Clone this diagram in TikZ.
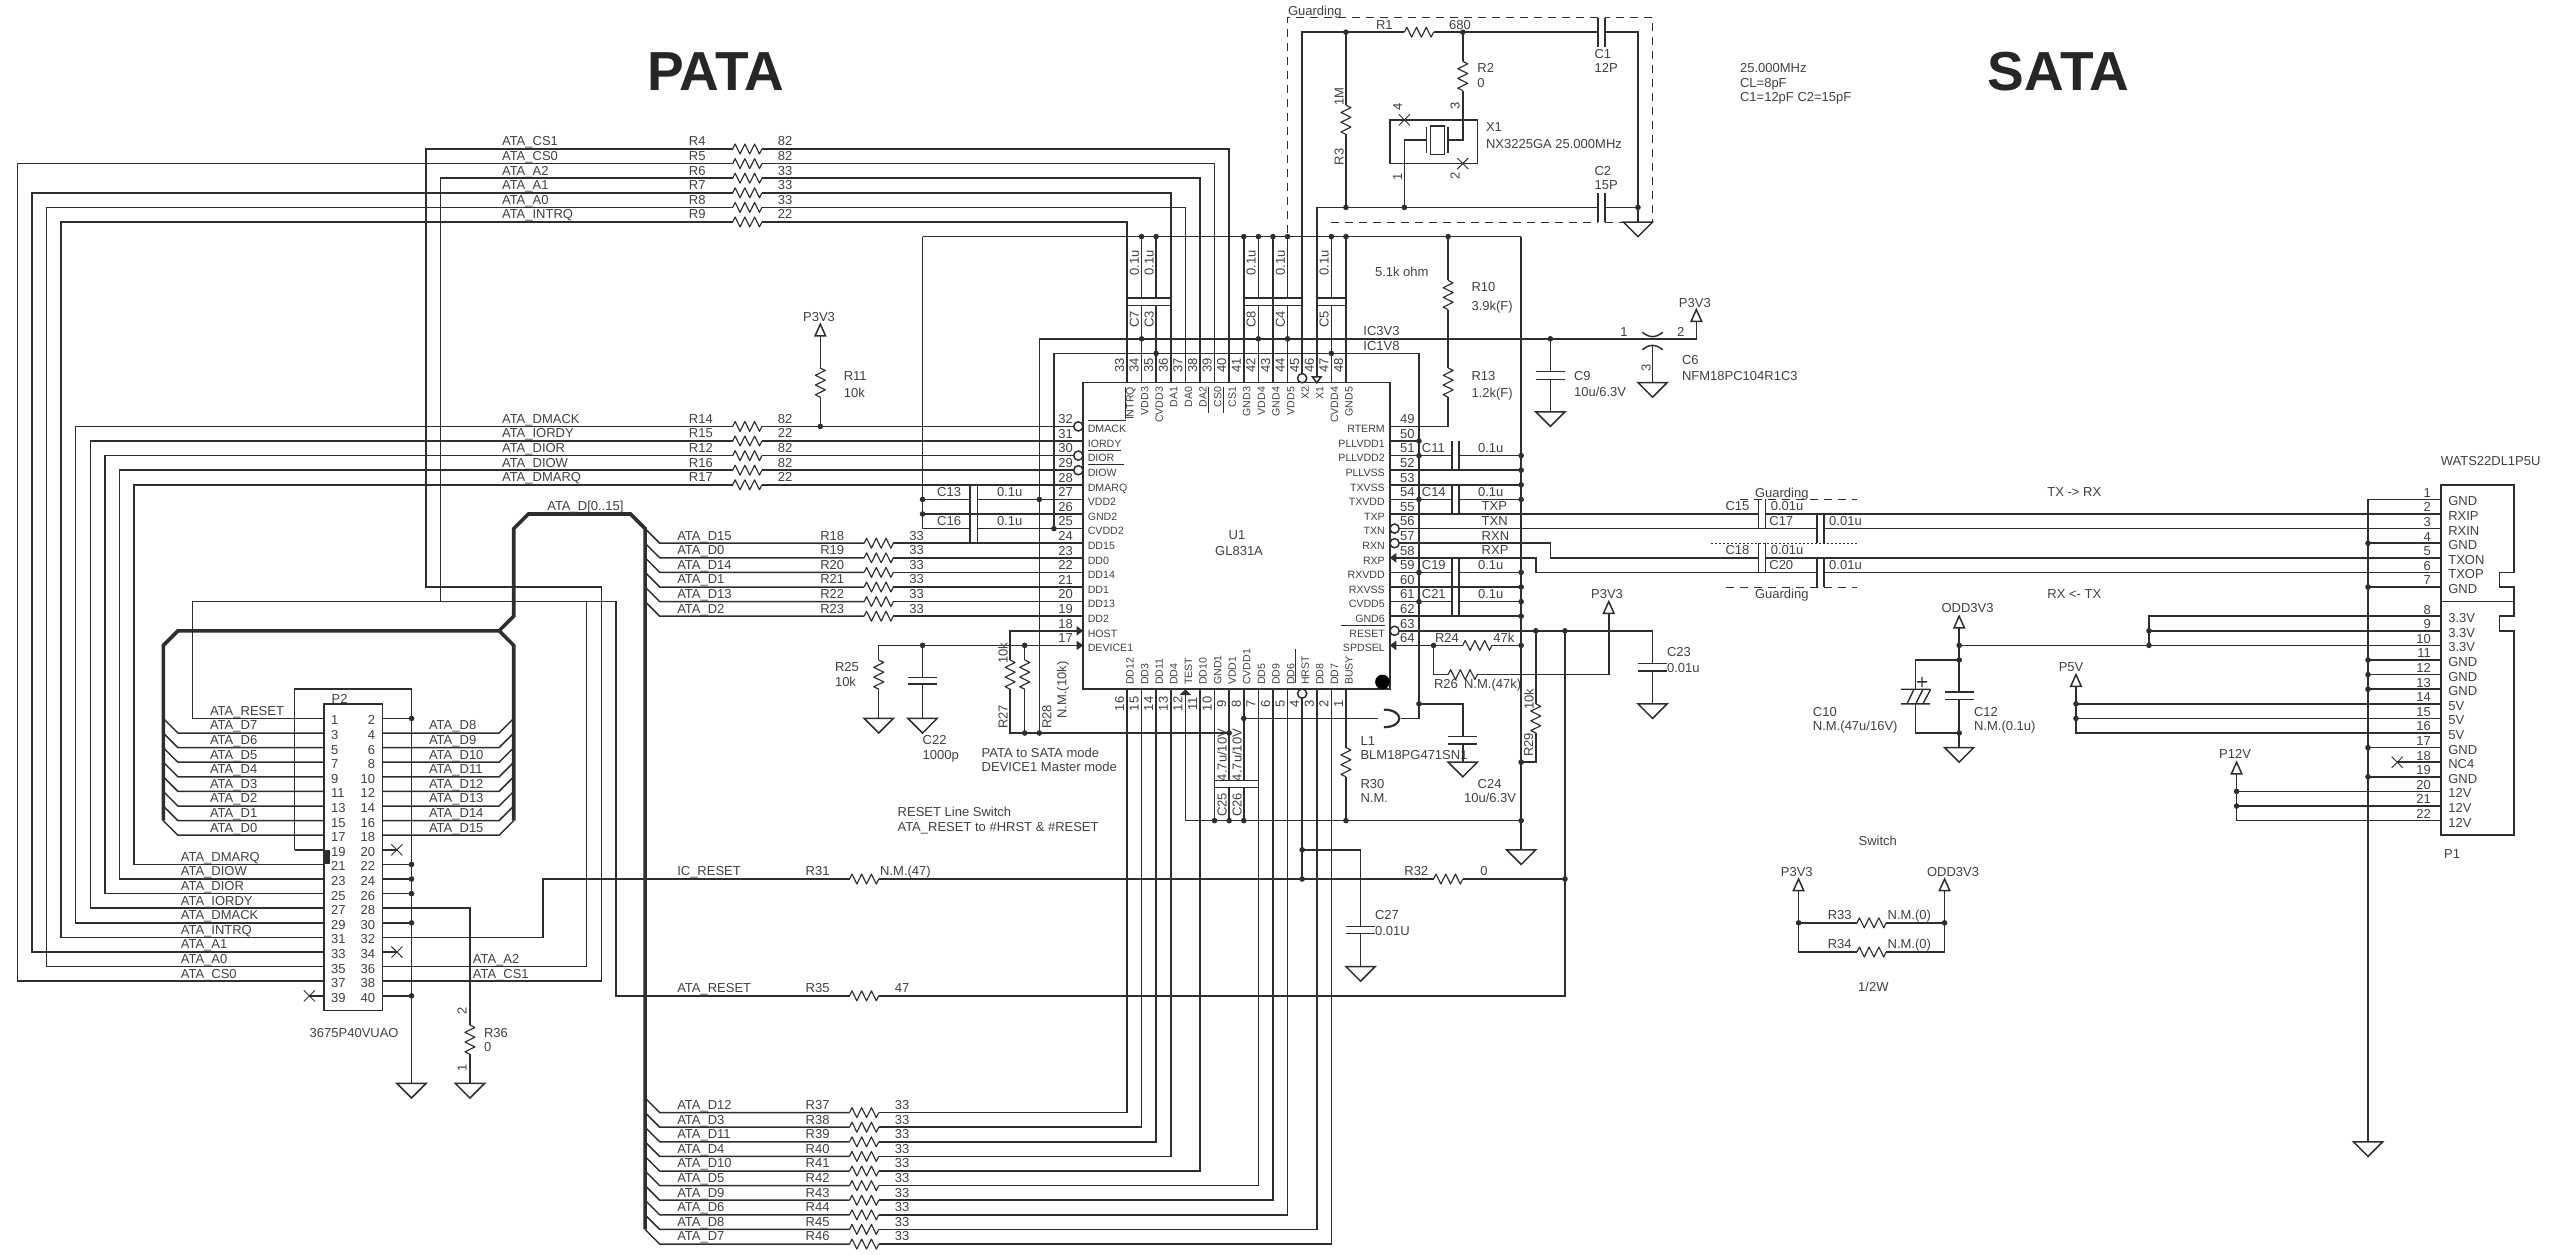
\documentclass[tikz,border=0pt]{standalone}
\usepackage{fontspec}
\setmainfont{Liberation Sans}
\usetikzlibrary{calc}
\definecolor{ink}{HTML}{2E2E2E}
\definecolor{inkt}{HTML}{404040}
\newcount\nc
\tikzset{
 wire/.style={draw=ink,line width=1.5pt,line join=miter},
 zig/.style={draw=ink,line width=1.15pt,line join=round},
 busline/.style={draw=ink,line width=3.6pt,line join=miter},
 plate/.style={draw=ink,line width=1.4pt},
 guard/.style={draw=ink,line width=1pt,dash pattern=on 8pt off 6pt},
 txt/.style={inner sep=0pt,outer sep=0pt,text=inkt,font=\fontsize{13}{15}\selectfont,text height=9.3pt,text depth=0pt},
 tiny/.style={txt,font=\fontsize{10.6}{12}\selectfont,text height=7.6pt},
 big/.style={inner sep=0pt,outer sep=0pt,text=black!85,font=\fontsize{55}{60}\selectfont\bfseries},
}
\newcommand\hres[3]{\coordinate (#1-a) at (#2,#3);\coordinate (#1-b) at ({#2+2},#3);\draw[zig] (#1-a) -- ++(.167,-.34) -- ++(.333,.68) -- ++(.333,-.68) -- ++(.333,.68) -- ++(.333,-.68) -- ++(.333,.68) -- (#1-b);}
\newcommand\vres[3]{\coordinate (#1-a) at (#2,#3);\coordinate (#1-b) at (#2,{#3+2});\draw[zig] (#1-a) -- ++(.34,.167) -- ++(-.68,.333) -- ++(.68,.333) -- ++(-.68,.333) -- ++(.68,.333) -- ++(-.68,.333) -- (#1-b);}
\newcommand\capH[2]{\draw[plate] ({#1-1},{#2-.25}) -- ({#1+1},{#2-.25}) ({#1-1},{#2+.25}) -- ({#1+1},{#2+.25});}
\newcommand\capV[2]{\draw[plate] ({#1-.25},{#2-1}) -- ({#1-.25},{#2+1}) ({#1+.25},{#2-1}) -- ({#1+.25},{#2+1});}
\newcommand\gnd[2]{\draw[wire] ({#1-1},#2) -- ({#1+1},#2) -- (#1,{#2+1}) -- cycle;}
\newcommand\pwr[2]{\draw[wire,fill=white] (#1,#2) -- ({#1-.36},{#2+.8}) -- ({#1+.36},{#2+.8}) -- cycle;}
\newcommand\xmark[2]{\draw[ink,line width=.9pt] ({#1-.38},{#2-.38}) -- ({#1+.38},{#2+.38}) ({#1-.38},{#2+.38}) -- ({#1+.38},{#2-.38});}
\newcommand\bub[2]{\draw[wire,fill=white] (#1,#2) circle (4.6pt);}
\newcommand\lblW[3]{\global\advance\nc by 1 \node[txt,anchor=west] (t\the\nc) at (#1,#2) {#3};}
\newcommand\lblE[3]{\global\advance\nc by 1 \node[txt,anchor=east] (t\the\nc) at (#1,#2) {#3};}
\newcommand\lblA[3]{\global\advance\nc by 1 \node[txt,anchor=west] (t\the\nc) at (#1,{#2-.53}) {#3};}
\newcommand\lblC[3]{\global\advance\nc by 1 \node[txt,anchor=center] (t\the\nc) at (#1,#2) {#3};}
\newcommand\pxW[3]{\global\advance\nc by 1 \node[txt,anchor=west] (t\the\nc) at ({(#1-17.3)/14.6},{(#2-149)/14.6}) {#3};}
\newcommand\pxC[3]{\global\advance\nc by 1 \node[txt,anchor=center] (t\the\nc) at ({(#1-17.3)/14.6},{(#2-149)/14.6}) {#3};}
\newcommand\pxR[3]{\global\advance\nc by 1 \node[txt,anchor=center,rotate=90] (t\the\nc) at ({(#1-17.3)/14.6},{(#2-149)/14.6}) {#3};}
\newcommand\pxL[4]{\draw[ink,line width=1pt] ({(#1-17.3)/14.6},{(#2-149)/14.6}) -- ({(#3-17.3)/14.6},{(#4-149)/14.6});}
\begin{document}
\begin{tikzpicture}[x=14.6pt,y=-14.6pt]
\useasboundingbox (-1.185,-10.205) rectangle (174.22,75.685);
% ---------- pin coordinates
\foreach \p in {17,...,32} \coordinate (U\p) at (73,{19+32-\p});
\foreach \p in {49,...,64} \coordinate (U\p) at (94,{19+\p-49});
\foreach \p in {33,...,48} \coordinate (U\p) at ({76+\p-33},16);
\foreach \p in {1,...,16} \coordinate (U\p) at ({76+16-\p},37);
\foreach \p in {1,3,...,39} \coordinate (PA\p) at (21,{39+(\p-1)/2});
\foreach \p in {2,4,...,40} \coordinate (PA\p) at (25,{39+(\p-2)/2});
\foreach \p in {1,...,7} \coordinate (PB\p) at (166,{23+\p});
\foreach \p in {8,...,22} \coordinate (PB\p) at (166,{24+\p});
% ---------- title
\node[big] (pata) at (47.85,-5.27) {PATA};
\node[big] (sata) at (139.8,-5.27) {SATA};
% ---------- series resistors with labels
\foreach \Mr/\Nt/\Rn/\Vl in {0/ATA\_CS1/R4/82,1/ATA\_CS0/R5/82,2/ATA\_A2/R6/33,3/ATA\_A1/R7/33,4/ATA\_A0/R8/33,5/ATA\_INTRQ/R9/22,19/ATA\_DMACK/R14/82,20/ATA\_IORDY/R15/22,21/ATA\_DIOR/R12/82,22/ATA\_DIOW/R16/82,23/ATA\_DMARQ/R17/22}{
 \hres{\Rn}{49}{\Mr}\lblA{33.2}{\Mr}{\Nt}\lblA{46}{\Mr}{\Rn}\lblA{52.1}{\Mr}{\Vl}}
\foreach \Mr/\Nt/\Rn in {27/ATA\_D15/R18,28/ATA\_D0/R19,29/ATA\_D14/R20,30/ATA\_D1/R21,31/ATA\_D13/R22,32/ATA\_D2/R23}{
 \hres{\Rn}{58}{\Mr}\lblA{45.2}{\Mr}{\Nt}\lblA{55}{\Mr}{\Rn}\lblA{61.1}{\Mr}{33}
 \draw[wire] (43,{\Mr-1}) -- (44,\Mr) -- (\Rn-a);}
\foreach \Mr/\Nt/\Rn in {66/ATA\_D12/R37,67/ATA\_D3/R38,68/ATA\_D11/R39,69/ATA\_D4/R40,70/ATA\_D10/R41,71/ATA\_D5/R42,72/ATA\_D9/R43,73/ATA\_D6/R44,74/ATA\_D8/R45,75/ATA\_D7/R46}{
 \hres{\Rn}{57}{\Mr}\lblA{45.2}{\Mr}{\Nt}\lblA{54}{\Mr}{\Rn}\lblA{60.1}{\Mr}{33}
 \draw[wire] (43,{\Mr-1}) -- (44,\Mr) -- (\Rn-a);}
\hres{R31}{57}{50}\lblA{45.2}{50}{IC\_RESET}\lblA{54}{50}{R31}\lblA{59.1}{50}{N.M.(47)}
\hres{R35}{57}{58}\lblA{45.2}{58}{ATA\_RESET}\lblA{54}{58}{R35}\lblA{60.1}{58}{47}
\hres{R32}{97}{50}\lblA{95}{50}{R32}\lblA{100.2}{50}{0}
\hres{R24}{99}{34}\lblA{97.1}{34}{R24}\lblA{101.1}{34}{47k}
\hres{R26}{98}{36}\pxW{1434}{684.3}{R26}\pxW{1464}{684.3}{N.M.(47k)}
\hres{R1}{95}{-8}\hres{R33}{126}{53}\hres{R34}{126}{55}
\vres{R11}{55}{15}\vres{R25}{59}{35}\vres{R27}{68}{35}\vres{R28}{69}{35}\vres{R13}{98}{15}\vres{R10}{98}{9}
\vres{R29}{104}{38}\vres{R30}{91}{41}\vres{R36}{31}{60}\vres{R3}{91}{-3}\vres{R2}{99}{-6}
% ---------- top bus wires to U1
\draw[wire] (R4-b) -| (U40); \draw[wire] (R5-b) -| (U39); \draw[wire] (R6-b) -| (U38);
\draw[wire] (R7-b) -| (U36); \draw[wire] (R8-b) -| (U37); \draw[wire] (R9-b) -| (U33);
\draw[wire] (R14-b) -- (U32); \draw[wire] (R15-b) -- (U31); \draw[wire] (R12-b) -- (U30);
\draw[wire] (R16-b) -- (U29); \draw[wire] (R17-b) -- (U28);
\draw[wire] (R18-b) -- (U24); \draw[wire] (R19-b) -- (U23); \draw[wire] (R20-b) -- (U22);
\draw[wire] (R21-b) -- (U21); \draw[wire] (R22-b) -- (U20); \draw[wire] (R23-b) -- (U19);
% ---------- left routing to P2
\draw[wire] (R5-a) -- (0,1) -- (0,57) -- (PA37);
\draw[wire] (R7-a) -- (1,3) -- (1,55) -- (PA33);
\draw[wire] (R8-a) -- (2,4) -- (2,56) -- (PA35);
\draw[wire] (R9-a) -- (3,5) -- (3,54) -- (PA31);
\draw[wire] (R14-a) -- (4,19) -- (4,53) -- (PA29);
\draw[wire] (R15-a) -- (5,20) -- (5,52) -- (PA27);
\draw[wire] (R12-a) -- (6,21) -- (6,51) -- (PA25);
\draw[wire] (R16-a) -- (7,22) -- (7,50) -- (PA23);
\draw[wire] (R17-a) -- (8,23) -- (8,49) -- (PA21);
\draw[wire] (R4-a) -- (28,0) -- (28,30) -- (40,30) -- (40,57) -- (PA38);
\draw[wire] (R6-a) -- (29,2) -- (29,31) -- (39,31) -- (39,56) -- (PA36);
\draw[wire] (PA1) -- (12,39) -- (12,31) -- (41,31) -- (41,58) -- (R35-a);
\draw[wire] (PA32) -- (36,54) -- (36,50) -- (R31-a);
% ---------- data bus
\draw[busline] (10,46) -- (10,34) -- (11,33) -- (33,33) -- (34,34) -- (34,46);
\draw[busline] (33,33) -- (34,32) -- (34,26) -- (35,25) -- (42,25) -- (43,26) -- (43,74);
\lblW{36.3}{24.45}{ATA\_D[0..15]}
% ---------- P2
\draw[wire,fill=white] (21,38) rectangle (25,59);
\foreach \p in {3,5,...,17}{\pgfmathtruncatemacro\rw{39+(\p-1)/2}\draw[wire] (PA\p) -- (11,\rw) -- (10,{\rw-1});}
\foreach \p in {4,6,...,18}{\pgfmathtruncatemacro\rw{39+(\p-2)/2}\draw[wire] (PA\p) -- (33,\rw) -- (34,{\rw-1});}
\foreach \p in {1,3,...,39}{\pgfmathtruncatemacro\rw{39+(\p-1)/2}\lblW{21.5}{\rw+.13}{\p}}
\foreach \p in {2,4,...,40}{\pgfmathtruncatemacro\rw{39+(\p-2)/2}\lblE{24.5}{\rw+.13}{\p}}
\fill[ink] (21,48) rectangle (21.45,49);
\draw[wire] (19,48) -- (PA19); \draw[wire] (19,48) -- (19,37) -- (27,37) -- (27,64);
\gnd{27}{64}\gnd{31}{64}
\draw[wire] (PA2) -- (27,39); \draw[wire] (PA22) -- (27,49); \draw[wire] (PA24) -- (27,50);
\draw[wire] (PA26) -- (27,51); \draw[wire] (PA30) -- (27,53); \draw[wire] (PA40) -- (27,58);
\draw[wire] (PA28) -- (31,52) -- (R36-a); \draw[wire] (R36-b) -- (31,64);
\draw[wire] (PA20) -- (26,48); \xmark{26}{48}
\draw[wire] (PA34) -- (26,55); \xmark{26}{55}
\draw[wire] (PA39) -- (20,58); \xmark{20}{58}
\foreach \Mr/\Nt in {39/ATA\_RESET,40/ATA\_D7,41/ATA\_D6,42/ATA\_D5,43/ATA\_D4,44/ATA\_D3,45/ATA\_D2,46/ATA\_D1,47/ATA\_D0}{\lblA{13.2}{\Mr}{\Nt}}
\foreach \Mr/\Nt in {40/ATA\_D8,41/ATA\_D9,42/ATA\_D10,43/ATA\_D11,44/ATA\_D12,45/ATA\_D13,46/ATA\_D14,47/ATA\_D15}{\lblA{28.2}{\Mr}{\Nt}}
\foreach \Mr/\Nt in {49/ATA\_DMARQ,50/ATA\_DIOW,51/ATA\_DIOR,52/ATA\_IORDY,53/ATA\_DMACK,54/ATA\_INTRQ,55/ATA\_A1,56/ATA\_A0,57/ATA\_CS0}{\lblA{11.2}{\Mr}{\Nt}}
\lblA{31.2}{56}{ATA\_A2}\lblA{31.2}{57}{ATA\_CS1}
\pxW{331.7}{698.7}{P2}\pxW{309.7}{1032.7}{3675P40VUAO}
\pxW{484}{1032.7}{R36}\pxW{484}{1046.7}{0}\pxR{462}{1011}{2}\pxR{462}{1068}{1}
% ---------- P3V3 pull-up
\draw[wire] (R14-b) -- (55,19) -- (R11-b); \draw[wire] (R11-a) -- (55,12.8); \pwr{55}{12}
\pxC{819}{316.7}{P3V3}\pxW{843.8}{375.7}{R11}\pxW{843.8}{392.7}{10k}
% ---------- U1 body
\draw[wire] (73,16) rectangle (94,37);
\draw[wire] (62,6) -- (103,6); \draw[wire] (103,6) -- (103,48); \draw[wire] (62,6) -- (62,26) -- (65.25,26);
\draw[wire] (65.75,26) -- (U25); \draw[wire] (62,24) -- (65.25,24); \draw[wire] (65.75,24) -- (U27);
\draw[wire] (62,25) -- (U26); \capV{65.5}{24}\capV{65.5}{26}
\lblA{63}{24}{C13}\lblA{67.1}{24}{0.1u}\lblA{63}{26}{C16}\lblA{67.1}{26}{0.1u}
\draw[wire] (70,13) -- (115,13) -- (115,11.8); \pwr{115}{11}
\draw[wire] (71,14) -- (96,14) -- (96,39) -- (94.8,39);
\draw[wire] (70,13) -- (70,40); \draw[wire] (71,14) -- (71,26);
\lblA{92.2}{13}{IC3V3}\lblA{92.2}{14}{IC1V8}
% top pins
\draw[wire] (76,5) -- (U33);\draw[wire] (84,6) -- (U41);\draw[wire] (86,6) -- (U43);\draw[wire] (91,6) -- (U48);
\foreach \nn/\pp/\cc in {77/34/C7,78/35/C3,85/42/C8,87/44/C4,90/47/C5}{
 \draw[wire] (\nn,6) -- (\nn,10.2); \draw[wire] (\nn,10.7) -- (U\pp);
 \draw[plate] ({\nn-1},10.2) -- ({\nn+1},10.2) ({\nn-1},10.7) -- ({\nn+1},10.7);
 \global\advance\nc by 1 \node[txt,rotate=90] (t\the\nc) at ({\nn-.5},7.8) {0.1u};
 \global\advance\nc by 1 \node[txt,rotate=90] (t\the\nc) at ({\nn-.5},11.65) {\cc};}
\foreach \p in {33,...,48}{\pgfmathsetmacro\nn{76+\p-33}\global\advance\nc by 1 \node[txt,rotate=90] (t\the\nc) at ({\nn-.52},14.8) {\p};}
\foreach \p/\q in {33/INTRQ,34/VDD3,35/CVDD3,36/DA1,37/DA0,38/DA2,39/CS0,40/CS1,41/GND3,42/VDD4,43/GND4,44/VDD5,45/X2,46/X1,47/CVDD4,48/GND5}{
 \global\advance\nc by 1 \node[tiny,rotate=90,anchor=east] (t\the\nc) at ($(U\p)+(.2,.3)$) {\q};}
\foreach \p/\q in {16/DD12,15/DD3,14/DD11,13/DD4,12/TEST,11/DD10,10/GND1,9/VDD1,8/CVDD1,7/DD5,6/DD9,5/DD6,4/HRST,3/DD8,2/DD7,1/BUSY}{
 \global\advance\nc by 1 \node[tiny,rotate=90,anchor=west] (t\the\nc) at ($(U\p)+(.2,-.3)$) {\q};
 \pgfmathsetmacro\nn{76+16-\p}\global\advance\nc by 1 \node[txt,rotate=90] (t\the\nc) at ({\nn-.52},38) {\p};}
\foreach \p/\q in {32/DMACK,31/IORDY,30/DIOR,29/DIOW,28/DMARQ,27/VDD2,26/GND2,25/CVDD2,24/DD15,23/DD0,22/DD14,21/DD1,20/DD13,19/DD2,18/HOST,17/DEVICE1}{
 \global\advance\nc by 1 \node[tiny,anchor=west] (t\the\nc) at ($(U\p)+(.32,.17)$) {\q};
 \pgfmathsetmacro\mm{19+32-\p}\lblC{71.8}{\mm-.5}{\p}}
\foreach \p/\q in {49/RTERM,50/PLLVDD1,51/PLLVDD2,52/PLLVSS,53/TXVSS,54/TXVDD,55/TXP,56/TXN,57/RXN,58/RXP,59/RXVDD,60/RXVSS,61/CVDD5,62/GND6,63/RESET,64/SPDSEL}{
 \global\advance\nc by 1 \node[tiny,anchor=east] (t\the\nc) at ($(U\p)+(-.34,.17)$) {\q};
 \pgfmathsetmacro\mm{19+\p-49}\lblC{95.2}{\mm-.5}{\p}}
\pxL{1088}{420.7}{1125.5}{420.7}\pxL{1088}{450}{1120.5}{450}\pxL{1088}{464.7}{1124.4}{464.7}
\pxL{1125}{386.7}{1125}{419.3}\pxL{1208.6}{386.7}{1208.6}{412.7}\pxL{1223}{386.7}{1223}{412.7}
\pxL{1340.6}{625}{1384.6}{625}\pxL{1295.8}{649}{1295.8}{683}
\pxC{1237}{535}{U1}\pxC{1239}{550.7}{GL831A}
\fill[black] (93.5,36.5) circle (7.3pt);
% crystal section
\draw[guard] (90,5) -- (108.25,5); \draw[guard] (108.75,5) -- (112,5) -- (112,-9) -- (108.75,-9); \draw[guard] (108.25,-9) -- (87,-9) -- (87,6);
\pxW{1288}{10.7}{Guarding}
\draw[wire] (U45) -- (88,-8) -- (R1-a); \draw[wire] (R1-b) -- (108.25,-8); \draw[wire] (108.75,-8) -- (111,-8) -- (111,5);
\draw[wire] (U46) -- (89,4) -- (108.25,4); \draw[wire] (108.75,4) -- (111,4); \capV{108.5}{-8}\capV{108.5}{4} \gnd{111}{5}
\draw[wire] (91,-8) -- (R3-a); \draw[wire] (R3-b) -- (91,4);
\draw[wire] (99,-8) -- (R2-a); \draw[wire] (R2-b) -- (99,-.6) -- (98,-.6);
\draw[wire] (94,-2) rectangle (100,1);
\draw[wire] (96.5,-.6) -- (95,-.6) -- (95,4);
\draw[wire,fill=white] (96.8,-1.56) rectangle (97.75,.36);
\draw[plate] (96.5,-1.5) -- (96.5,.3) (98,-1.5) -- (98,.3);
\xmark{95}{-2}\xmark{99}{1}
\pxR{1397.4}{106.7}{4}\pxR{1454.8}{106}{3}\pxR{1397.4}{176.7}{1}\pxR{1454.8}{176}{2}
\pxW{1486}{127.3}{X1}\pxW{1486}{144.3}{NX3225GA 25.000MHz}
\pxW{1477.4}{68.3}{R2}\pxW{1477.4}{83.3}{0}\pxW{1376}{25}{R1}\pxW{1449}{25}{680}
\pxR{1339}{96.7}{1M}\pxR{1339}{157}{R3}
\pxW{1594.5}{54}{C1}\pxW{1594.5}{68.3}{12P}\pxW{1594.5}{170.7}{C2}\pxW{1594.5}{185}{15P}
\pxW{1740}{68.3}{25.000MHz}\pxW{1740}{83}{CL=8pF}\pxW{1740}{97.3}{C1=12pF C2=15pF}
% RTERM
\draw[wire] (U49) -- (98,19) -- (R13-b); \draw[wire] (R13-a) -- (R10-b); \draw[wire] (R10-a) -- (98,6);
\pxW{1471.5}{287.3}{R10}\pxW{1471.5}{306}{3.9k(F)}\pxW{1471.5}{375.7}{R13}\pxW{1471.5}{392.7}{1.2k(F)}\pxW{1375}{272.3}{5.1k ohm}
% C9, C6
\draw[wire] (105,13) -- (105,15.25); \draw[wire] (105,15.8) -- (105,18); \draw[plate] (104,15.25) -- (106,15.25) (104,15.8) -- (106,15.8); \gnd{105}{18}
\pxW{1574}{375.7}{C9}\pxW{1574}{392.3}{10u/6.3V}
\draw[wire] (111.3,12.55) .. controls (111.8,12.95) and (112.2,12.95) .. (112.7,12.55);
\draw[wire] (111.3,13.75) .. controls (111.8,13.35) and (112.2,13.35) .. (112.7,13.75);
\draw[wire] (112,13.5) -- (112,16); \gnd{112}{16}
\pxC{1624}{331.7}{1}\pxC{1680.6}{331.7}{2}\pxR{1645.8}{367.7}{3}\pxW{1682}{360}{C6}\pxW{1682}{375.7}{NFM18PC104R1C3}
\pxC{1694.8}{302.7}{P3V3}
% right side pins
\foreach \pp/\rr/\cc in {51/21/C11,54/24/C14,59/29/C19,61/31/C21}{
 \draw[wire] (U\pp) -- (98.25,\rr); \draw[wire] (98.75,\rr) -- (103,\rr); \capV{98.5}{\rr}
 \lblA{96.2}{\rr}{\cc}\lblA{100.05}{\rr}{0.1u}}
\draw[wire] (U50) -- (96,20); \draw[wire] (U52) -- (103,22); \draw[wire] (U53) -- (103,23);
\draw[wire] (U60) -- (103,30); \draw[wire] (U62) -- (103,32);
\lblA{100.3}{25}{TXP}\lblA{100.3}{26}{TXN}\lblA{100.3}{27}{RXN}\lblA{100.3}{28}{RXP}
\draw[wire] (U55) -- (119.25,25); \draw[wire] (119.75,25) -- (PB2);
\draw[wire] (U56) -- (123.25,26); \draw[wire] (123.75,26) -- (PB3);
\draw[wire] (U57) -- (105,27) -- (105,28) -- (119.25,28); \draw[wire] (119.75,28) -- (PB5);
\draw[wire] (U58) -- (104,28) -- (104,29) -- (123.25,29); \draw[wire] (123.75,29) -- (PB6);
\capV{119.5}{25}\capV{123.5}{26}\capV{119.5}{28}\capV{123.5}{29}
\lblA{117}{25}{C15}\lblA{120.1}{25}{0.01u}\lblA{120}{26}{C17}\lblA{124.1}{26}{0.01u}
\lblA{117}{28}{C18}\lblA{120.1}{28}{0.01u}\lblA{120}{29}{C20}\lblA{124.1}{29}{0.01u}
\draw[guard] (118,24) -- (126,24); \draw[guard] (117,30) -- (126,30);
\draw[ink,line width=1.3pt,dash pattern=on 2pt off 2pt] (116,27) -- (126,27);
\pxW{1755}{492.7}{Guarding}\pxW{1755}{594.3}{Guarding}
\pxW{2047.3}{492.3}{TX -> RX}\pxW{2047.3}{594.3}{RX <- TX}
% reset
\draw[wire] (U63) -- (112,33) -- (112,35.25); \draw[wire] (112,35.75) -- (112,38);
\draw[plate] (111,35.25) -- (113,35.25) (111,35.75) -- (113,35.75); \gnd{112}{38}
\pxW{1667}{652}{C23}\pxW{1667}{667.7}{0.01u}
\draw[wire] (104,33) -- (R29-a); \draw[wire] (R29-b) -- (104,42) -- (103,42);
\pxR{1529}{699}{10k}\pxR{1528.5}{745}{R29}
\draw[wire] (106,33) -- (106,58) -- (R35-b);
\draw[wire] (U64) -- (R24-a); \draw[wire] (R24-b) -- (103,34);
\draw[wire] (97,34) -- (97,36) -- (R26-a); \draw[wire] (R26-b) -- (109,36) -- (109,31.8); \pwr{109}{31}
\pxC{1607}{594}{P3V3}
\gnd{103}{48}
% bottom pins
\draw[wire] (U12) -- (80,46) -- (103,46);
\draw[wire] (U10) -- (82,46);
\draw[wire] (U9) -- (83,43.25); \draw[wire] (83,43.75) -- (83,46);
\draw[wire] (U8) -- (84,43.25); \draw[wire] (84,43.75) -- (84,46);
\draw[plate] (82,43.25) -- (84,43.25) (82,43.75) -- (84,43.75) (83,43.25) -- (85,43.25) (83,43.75) -- (85,43.75);
\pxR{1222}{755}{4.7u/10V}\pxR{1237}{755}{4.7u/10V}\pxR{1222}{805}{C25}\pxR{1237}{805}{C26}
\draw[wire] (R37-b) -| (U16); \draw[wire] (R38-b) -| (U15); \draw[wire] (R39-b) -| (U14); \draw[wire] (R40-b) -| (U13);
\draw[wire] (R41-b) -| (U11); \draw[wire] (R42-b) -| (U7); \draw[wire] (R43-b) -| (U6); \draw[wire] (R44-b) -| (U5);
\draw[wire] (R45-b) -| (U3); \draw[wire] (R46-b) -| (U2);
\draw[wire] (U4) -- (88,50);
\draw[wire] (88,48) -- (92,48) -- (92,53.25); \draw[wire] (92,53.75) -- (92,56);
\draw[plate] (91,53.25) -- (93,53.25) (91,53.75) -- (93,53.75); \gnd{92}{56}
\pxW{1375}{915}{C27}\pxW{1375}{930.7}{0.01U}
\draw[wire] (R31-b) -- (R32-a); \draw[wire] (R32-b) -- (106,50);
\draw[wire] (U1) -- (R30-a); \draw[wire] (R30-b) -- (91,46);
\pxW{1360.5}{740.7}{L1}\pxW{1360.5}{755}{BLM18PG471SN1}\pxW{1360.5}{784.3}{R30}\pxW{1360.5}{798.3}{N.M.}
\draw[wire] (84,39) -- (93.2,39);
\draw[ink,line width=2.2pt] (93.6,38.4) .. controls (95,38.4) and (95,39.6) .. (93.6,39.6);
\draw[wire] (96,38) -- (99,38) -- (99,40.25); \draw[wire] (99,40.75) -- (99,42);
\draw[plate] (98,40.25) -- (100,40.25) (98,40.75) -- (100,40.75); \gnd{99}{42}
\pxW{1477.6}{784.3}{C24}\pxW{1464}{798.3}{10u/6.3V}
% HOST etc
\draw[wire] (U18) -- (68,33) -- (R27-a); \draw[wire] (R27-b) -- (68,40) -- (83,40);
\draw[wire] (U17) -- (59,34) -- (R25-a); \draw[wire] (R25-b) -- (59,39); \gnd{59}{39}
\draw[wire] (69,34) -- (R28-a); \draw[wire] (R28-b) -- (69,40);
\draw[wire] (62,34) -- (62,36.2); \draw[wire] (62,36.65) -- (62,39); \draw[plate] (61,36.2) -- (63,36.2) (61,36.65) -- (63,36.65); \gnd{62}{39}
\pxW{835}{667.3}{R25}\pxW{835}{681.7}{10k}\pxW{922.7}{740}{C22}\pxW{922.7}{755}{1000p}
\pxR{1003}{653}{10k}\pxR{1003}{716.7}{R27}\pxR{1046.7}{716.7}{R28}\pxR{1061.7}{690}{N.M.(10k)}
\pxW{981.7}{753.3}{PATA to SATA mode}\pxW{981.7}{766.7}{DEVICE1 Master mode}
\pxW{897.7}{812.3}{RESET Line Switch}\pxW{897.5}{827.3}{ATA\_RESET to \#HRST \& \#RESET}
% pin markers
\bub{72.67}{19}\bub{72.67}{21}\bub{72.67}{22}\bub{94.33}{26}\bub{94.33}{27}\bub{94.33}{33}\bub{88}{15.7}\bub{88}{37.3}
\foreach \mm in {33,34}{\fill[ink] (73,\mm) -- (72.55,{\mm-.33}) -- (72.55,{\mm+.33}) -- cycle;}
\foreach \mm in {28,34}{\fill[ink] (94,\mm) -- (94.45,{\mm-.33}) -- (94.45,{\mm+.33}) -- cycle;}
\fill[ink] (80,37) -- (79.6,37.4) -- (80.4,37.4) -- cycle;
\draw[wire,fill=white] (89,16) -- (88.7,15.6) -- (89.3,15.6) -- cycle;
% ---------- P1
\draw[wire] (166,23) -- (171,23) -- (171,29) -- (170,29) -- (170,30) -- (171,30) -- (171,32) -- (170,32) -- (170,33) -- (171,33) -- (171,47) -- (166,47) -- cycle;
\draw[wire] (166,31) -- (171,31);
\foreach \p/\q in {1/GND,2/RXIP,3/RXIN,4/GND,5/TXON,6/TXOP,7/GND,8/3.3V,9/3.3V,10/3.3V,11/GND,12/GND,13/GND,14/5V,15/5V,16/5V,17/GND,18/NC4,19/GND,20/12V,21/12V,22/12V}{
 \global\advance\nc by 1 \node[txt,anchor=west] (t\the\nc) at ($(PB\p)+(.5,.12)$) {\q};
 \global\advance\nc by 1 \node[txt,anchor=east] (t\the\nc) at ($(PB\p)+(-.7,-.46)$) {\p};}
\pxW{2440.7}{460.7}{WATS22DL1P5U}\pxW{2444}{854}{P1}
\draw[wire] (PB1) -- (161,24) -- (161,68); \gnd{161}{68}
\foreach \p in {4,7,11,12,13,17,19}{\draw[wire] (PB\p) -- (161,0 |- PB\p);}
\draw[wire] (PB8) -- (146,32) -- (146,34); \draw[wire] (PB9) -- (146,33); \draw[wire] (PB10) -- (133,34);
\draw[wire] (PB14) -- (141,38) -- (141,36.8); \draw[wire] (PB15) -- (141,39); \draw[wire] (PB16) -- (141,40) -- (141,38); \pwr{141}{36}
\pxC{2071}{667.3}{P5V}
\draw[wire] (PB20) -- (152,44) -- (152,42.8); \draw[wire] (PB21) -- (152,45); \draw[wire] (PB22) -- (152,46) -- (152,44); \pwr{152}{42}
\pxC{2235}{754.3}{P12V}
\draw[wire] (PB18) -- (163,42); \xmark{163}{42}
% ODD3V3
\draw[wire] (133,32.8) -- (133,37.2); \draw[wire] (133,37.7) -- (133,41); \draw[plate] (132,37.2) -- (134,37.2) (132,37.7) -- (134,37.7); \pwr{133}{32}\gnd{133}{41}
\pxC{1967.5}{608.3}{ODD3V3}
\draw[wire] (133,35) -- (130,35) -- (130,37); \draw[wire] (130,38) -- (130,40) -- (133,40);
\draw[plate] (129,37) -- (131,37) (129,38) -- (131,38) (129.91,37) -- (129.42,38) (130.52,37) -- (130.03,38) (131.05,37) -- (130.52,38) (130.45,36.15) -- (130.45,36.85) (130.1,36.5) -- (130.8,36.5);
\pxW{1812.9}{711.7}{C10}\pxW{1812.9}{725.7}{N.M.(47u/16V)}\pxW{1974}{711.7}{C12}\pxW{1974}{725.7}{N.M.(0.1u)}
% switch
\draw[wire] (122,50.8) -- (122,55) -- (R34-a); \draw[wire] (R34-b) -- (132,55) -- (132,50.8); \draw[wire] (122,53) -- (R33-a); \draw[wire] (R33-b) -- (132,53);\pwr{122}{50}\pwr{132}{50}
\lblA{124}{53}{R33}\lblA{128.1}{53}{N.M.(0)}\lblA{124}{55}{R34}\lblA{128.1}{55}{N.M.(0)}
\pxC{1796.7}{871.7}{P3V3}\pxC{1953}{871.7}{ODD3V3}\pxC{1877.7}{841}{Switch}\pxC{1873.3}{987.3}{1/2W}
% ---------- junction dots
\foreach \a/\b in {27/39,27/49,27/50,27/51,27/53,27/58,55/19,62/24,62/25,70/24,71/26,77/6,78/6,84/6,85/6,86/6,87/6,90/6,91/6,98/6,77/13,85/13,87/13,105/13,78/14,90/14,91/-8,99/-8,91/4,95/4,111/4,96/20,96/21,96/24,96/29,96/31,103/21,103/22,103/23,103/24,103/29,103/30,103/31,103/32,103/34,103/42,103/46,97/34,104/33,106/33,84/39,96/38,83/40,69/40,70/40,62/34,69/34,82/46,83/46,84/46,91/46,88/48,88/50,106/50,146/33,146/34,133/34,133/35,133/40,141/38,141/39,152/44,152/45,161/27,161/30,161/35,161/36,161/37,161/41,161/43,122/53,132/53}{\fill[ink] (\a,\b) circle (2.8pt);}
\end{tikzpicture}
\end{document}
